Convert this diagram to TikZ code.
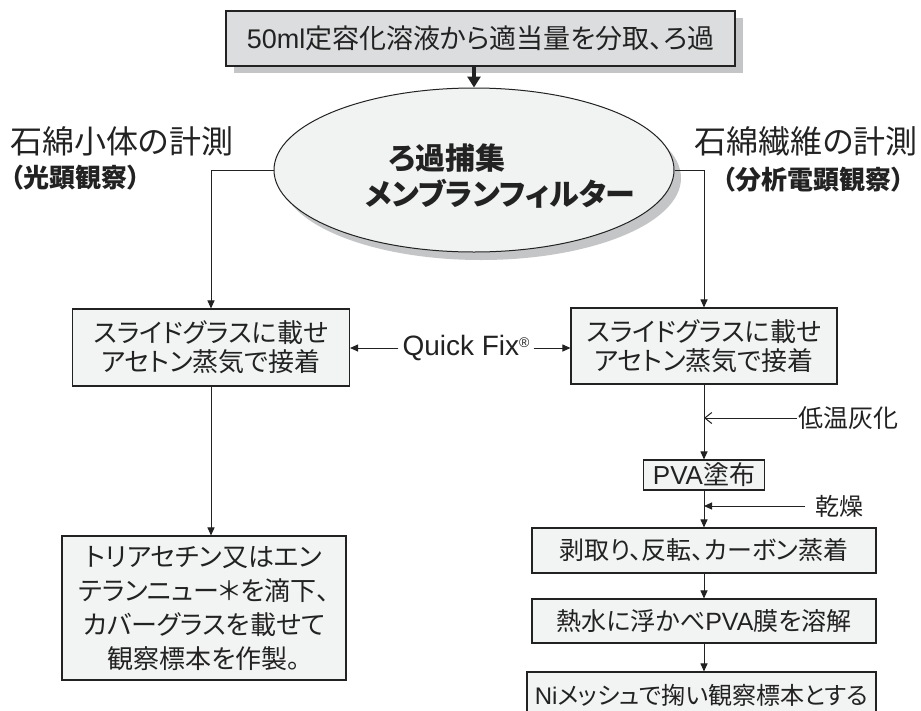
\documentclass[tikz,border=0pt]{standalone}
\usepackage{fontspec}
\setmainfont{Liberation Sans}
\newfontfamily\lat{Liberation Sans}
\newfontfamily\jp[RawFeature=+palt]{Noto Sans CJK JP}
\usetikzlibrary{arrows.meta,shapes.geometric,shadows}
\newcommand\myfs[2]{\fontsize{#1}{#2}\selectfont}
\definecolor{topfill}{HTML}{DCDDDE}
\definecolor{boxfill}{HTML}{F2F3F3}
\definecolor{ellfill}{HTML}{F1F2F2}
\definecolor{shadowgray}{HTML}{C4C5C6}
\definecolor{ink}{HTML}{222222}
\begin{document}
\begin{tikzpicture}[x=1pt,y=-1pt,
  every node/.style={text=ink},
  box/.style={draw=ink, fill=boxfill, line width=1.1pt, inner sep=0pt, align=center},
  arr/.style={draw=ink, line width=1pt, -{Triangle[length=8pt,width=7pt]}},
  bigarr/.style={draw=ink, line width=3.5pt, -{Triangle[length=11pt,width=13pt]}},
  openarr/.style={draw=ink, line width=1pt, -{Straight Barb[length=7pt,width=11pt,line width=1pt]}},
  lbl/.style={font=\jp\myfs{32}{36}, inner sep=0pt},
  sublbl/.style={font=\jp\bfseries\myfs{26}{30}, inner sep=0pt},
  boxtxt/.style={font=\jp\myfs{26}{29}}
]
\fill[white] (0,0) rectangle (921,710);
\useasboundingbox (0,0) rectangle (921,710);

% top box
\node[box, fill=topfill, minimum width=509pt, minimum height=55pt,
      font=\jp\myfs{27}{30},
      drop shadow={shadow xshift=8pt, shadow yshift=-7pt, fill=shadowgray, opacity=1}]
      (top) at (480.5,38.5) {{\lat 50ml}定容化溶液から適当量を分取、ろ過};

% ellipse
\node[ellipse, draw=ink, fill=ellfill, line width=1pt, minimum width=400pt, minimum height=164pt, inner sep=0pt,
      drop shadow={shadow xshift=7pt, shadow yshift=-8pt, fill=shadowgray, opacity=1}]
      (ell) at (474,170) {};
\node[font=\jp\bfseries\myfs{30}{34}, inner sep=0pt] (e1) at (447,158.5) {ろ過捕集};
\node[font=\jp\bfseries\myfs{30}{34}, inner sep=0pt] (e2) at (500,194) {メンブランフィルター};

% side labels
\node[lbl, anchor=west] (l1) at (10,141.5) {石綿小体の計測};
\node[sublbl, anchor=west] (l2) at (10,178) {（光顕観察）};
\node[lbl, anchor=east] (r1) at (918,141.5) {石綿繊維の計測};
\node[sublbl, anchor=east] (r2) at (905,180) {（分析電顕観察）};

% middle boxes
\node[box, boxtxt, minimum width=277pt, minimum height=77pt] (lb) at (211,347.5)
      {スライドグラスに載せ\\アセトン蒸気で接着};
\node[box, boxtxt, minimum width=266pt, minimum height=76pt] (rb) at (704,346)
      {スライドグラスに載せ\\アセトン蒸気で接着};
\node[font=\lat\myfs{28}{30}, inner xsep=4pt, inner ysep=0pt] (qf) at (466,348)
      {Quick Fix\raisebox{8pt}{\myfs{14}{14}®}};

% left lower box
\node[box, font=\jp\myfs{26}{34}, minimum width=284pt, minimum height=144pt] (lb2) at (204,608)
      {トリアセチン又はエン\\テランニュー＊を滴下、\\カバーグラスを載せて\\観察標本を作製。};

% right column
\node[box, font=\jp\myfs{26}{29}, minimum width=121pt, minimum height=30pt] (pva) at (704,475)
      {{\lat PVA}塗布};
\node[font=\jp\myfs{25}{28}, anchor=west, inner sep=1pt] (lt) at (797,418) {低温灰化};
\node[font=\jp\myfs{24}{26}, anchor=west, inner xsep=10pt, inner ysep=0pt] (kd) at (805,506) {乾燥};
\node[box, font=\jp\myfs{25}{28}, minimum width=344pt, minimum height=45pt] (b1) at (704,550.5)
      {剥取り、反転、カーボン蒸着};
\node[box, font=\jp\myfs{25}{28}, minimum width=344pt, minimum height=44pt] (b2) at (704,621)
      {熱水に浮かべ{\lat PVA}膜を溶解};
\node[box, font=\jp\myfs{24}{28}, minimum width=349pt, minimum height=46pt] (b3) at (701.5,695)
      {{\lat Ni}メッシュで掬い観察標本とする};

% connectors
\draw[bigarr] (top.south -| ell.north) -- (ell.north);
\draw[arr] (ell.west) -| (lb.north);
\draw[arr] (ell.east) -| (rb.north);
\draw[arr] (qf.west) -- (qf.west -| lb.east);
\draw[arr] (qf.east) -- (qf.east -| rb.west);
\draw[arr] (lb.south) -- (lb.south |- lb2.north);
\draw[arr] (rb.south) -- (pva.north);
\draw[openarr] (lt.west) -- (lt.west -| rb.south);
\draw[arr] (pva.south) -- (b1.north);
\draw[arr] (kd.west) -- (kd.west -| pva.south);
\draw[arr] (b1.south) -- (b2.north);
\draw[arr] (b2.south) -- (b2.south |- b3.north);
\end{tikzpicture}
\end{document}
